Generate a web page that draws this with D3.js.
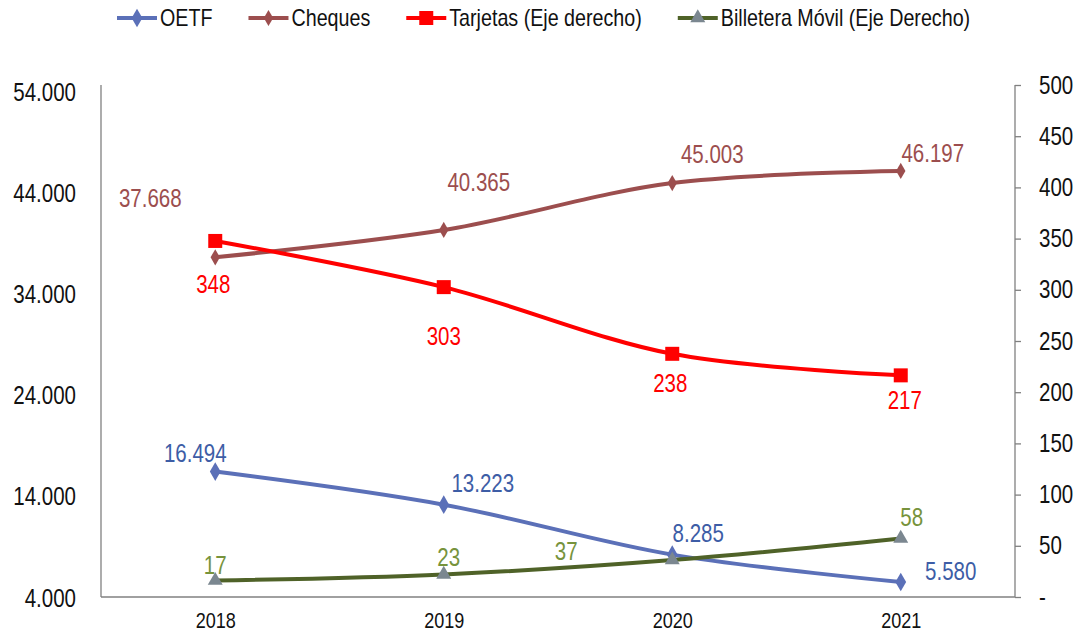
<!DOCTYPE html>
<html>
<head>
<meta charset="utf-8">
<script src="https://cdn.jsdelivr.net/npm/d3@7"></script>
<style>
  body { margin: 0; background: #fff; }
  svg text { font-family: "Liberation Sans", Arial, sans-serif; }
</style>
</head>
<body>
<div id="chart"></div>
<script>
/* DATA */

var years = ["2018", "2019", "2020", "2021"];
var oetf = [16494, 13223, 8285, 5580];
var cheques = [37668, 40365, 45003, 46197];
var tarjetas = [348, 303, 238, 217];
var billetera = [17, 23, 37, 58];

var leftTicks = [4000, 14000, 24000, 34000, 44000, 54000];
var rightTicks = [0, 50, 100, 150, 200, 250, 300, 350, 400, 450, 500];

var series = [
  {name: "OETF", values: oetf, axis: "left", line: "#5b70b8", label: "#3d5da6", marker: "diamond", mcolor: "#5b70b8", msize: 15,
   offsets: [[-20, -18], [39, -21], [26, -21], [50, -11]]},
  {name: "Cheques", values: cheques, axis: "left", line: "#9c4e4e", label: "#9c4e4e", marker: "diamond", mcolor: "#9c4e4e", msize: 13,
   offsets: [[-65, -59], [35, -48], [40, -29], [32, -18]]},
  {name: "Tarjetas (Eje derecho)", values: tarjetas, axis: "right", line: "#ff0000", label: "#ff0000", marker: "square", mcolor: "#ff0000", msize: 14,
   offsets: [[-2, 43], [0, 49], [-2, 29], [4, 25]]},
  {name: "Billetera Móvil (Eje Derecho)", values: billetera, axis: "right", line: "#4f6228", label: "#77933c", marker: "triangle", mcolor: "#7b8790", msize: 15,
   offsets: [[0, -15], [5, -17], [-106, -9], [11, -21]]}
];

var es = d3.formatLocale({decimal: ",", thousands: ".", grouping: [3], currency: ["$", ""]});
var fmt = es.format(",d");

// the reference uses a narrow face; squeeze the installed one to match
function narrow(sel){
  sel.each(function(){
    var len = this.getComputedTextLength();
    d3.select(this).attr("textLength", len * 0.82).attr("lengthAdjust", "spacingAndGlyphs");
  });
}

function drawChart(){

  var w = 1081;
  var h = 634;
  var left = 101, right = 1015, top = 85, bottom = 597;

  var svg = d3.select("#chart").append("svg")
              .attr("width", w)
              .attr("height", h);

  var x = d3.scalePoint().domain(years).range([left, right]).padding(0.5);
  var yL = d3.scaleLinear().domain([4000, 54000]).range([598, 92]);
  var yR = d3.scaleLinear().domain([0, 500]).range([598, 85]);

  // frame
  svg.append("line").attr("x1", left).attr("x2", left).attr("y1", top).attr("y2", bottom)
     .attr("stroke", "#808080").attr("stroke-width", 1.3);
  svg.append("line").attr("x1", left).attr("x2", right).attr("y1", bottom).attr("y2", bottom)
     .attr("stroke", "#808080").attr("stroke-width", 1.3);

  // left axis
  var gL = svg.append("g")
              .attr("transform", "translate(" + (left - 22) + ",0)")
              .call(d3.axisLeft(yL).tickValues(leftTicks).tickSize(0).tickFormat(fmt));
  gL.select(".domain").remove();
  gL.selectAll("text").attr("font-size", 25).attr("fill", "#111").call(narrow);

  // right axis
  var gR = svg.append("g")
              .attr("transform", "translate(" + right + ",0)")
              .call(d3.axisRight(d3.scaleLinear().domain([0, 500]).range([bottom, top]))
                .tickValues(rightTicks).tickSize(6).tickPadding(18)
                .tickFormat(function(d){ return d === 0 ? "-" : d; }));
  gR.select(".domain").attr("stroke", "#808080").attr("stroke-width", 1.3).attr("d", "M0," + top + "V" + bottom);
  gR.selectAll(".tick line").attr("stroke", "#808080").attr("stroke-width", 1.3);
  gR.selectAll("text").attr("font-size", 25).attr("fill", "#111").call(narrow);

  // x axis labels
  var gX = svg.append("g")
              .attr("transform", "translate(0," + bottom + ")")
              .call(d3.axisBottom(x).tickSize(0).tickPadding(15));
  gX.select(".domain").remove();
  gX.selectAll("text").attr("font-size", 22).attr("fill", "#111").call(narrow);

  var symbols = {diamond: d3.symbolDiamond, square: d3.symbolSquare, triangle: d3.symbolTriangle};

  function symbolPath(s){
    var a = s.msize * s.msize;
    if (s.marker === "diamond") a = s.msize * s.msize * 0.45;
    if (s.marker === "triangle") a = s.msize * s.msize * 0.43;
    return d3.symbol().type(symbols[s.marker]).size(a)();
  }

  // lines + markers
  series.forEach(function(s){
    var y = s.axis === "left" ? yL : yR;
    var line = d3.line()
                 .x(function(d, i){ return x(years[i]); })
                 .y(function(d){ return y(d); })
                 .curve(d3.curveCatmullRom.alpha(0.5));

    svg.append("path")
       .datum(s.values)
       .attr("d", line)
       .attr("fill", "none")
       .attr("stroke", s.line)
       .attr("stroke-width", 4);

    s.pts = s.values.map(function(d, i){ return [x(years[i]), y(d)]; });
  });

  series.forEach(function(s){
    svg.selectAll(null)
       .data(s.pts)
       .enter().append("path")
       .attr("d", symbolPath(s))
       .attr("transform", function(p){ return "translate(" + p[0] + "," + p[1] + ")"; })
       .attr("fill", s.mcolor);
  });

  series.forEach(function(s){
    svg.selectAll(null)
       .data(s.values)
       .enter().append("text")
       .attr("x", function(d, i){ return s.pts[i][0] + s.offsets[i][0]; })
       .attr("y", function(d, i){ return s.pts[i][1] + s.offsets[i][1]; })
       .attr("dy", "0.35em")
       .attr("text-anchor", "middle")
       .attr("font-size", 25)
       .attr("fill", s.label)
       .text(function(d){ return fmt(d); })
       .call(narrow);
  });

  // legend
  var lx = 117;
  var ly = 18;
  series.forEach(function(s){
    var g = svg.append("g").attr("transform", "translate(" + lx + "," + ly + ")");
    g.append("line").attr("x1", 0).attr("x2", 40).attr("stroke", s.line).attr("stroke-width", 4);
    g.append("path").attr("d", symbolPath(s)).attr("transform", "translate(20,0)").attr("fill", s.mcolor);
    var t = g.append("text")
             .attr("x", 43)
             .attr("dy", "0.35em")
             .attr("font-size", 24)
             .attr("fill", "#111")
             .text(s.name)
             .call(narrow);
    lx += 43 + +t.attr("textLength") + 36;
  });

};

drawChart();
</script>
</body>
</html>
